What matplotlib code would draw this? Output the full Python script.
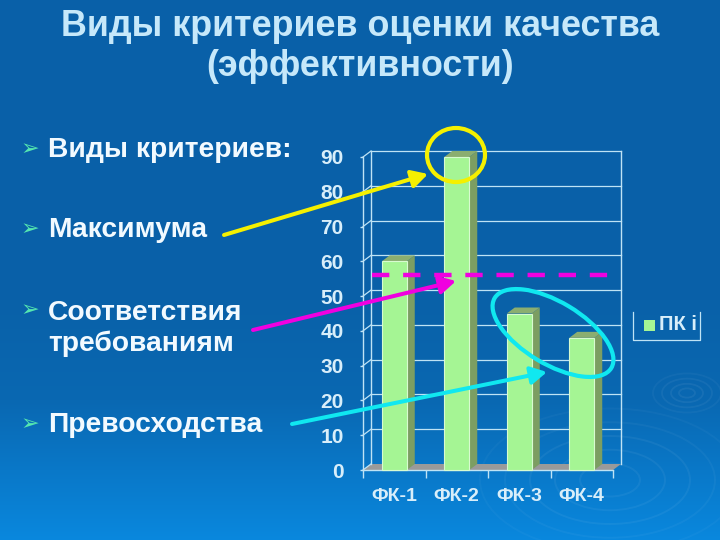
import numpy as np
import matplotlib
matplotlib.use("Agg")
import matplotlib.pyplot as plt
from matplotlib.patches import Polygon, Ellipse, Rectangle, FancyArrowPatch

plt.rcParams['font.family'] = ['Liberation Sans', 'DejaVu Sans']

categories = ['ФК-1', 'ФК-2', 'ФК-3', 'ФК-4']
values = [60, 90, 45, 38]
y_ticks = list(range(0, 100, 10))
threshold = 56
title_lines = ['Виды критериев оценки качества', '(эффективности)']
bullets = ['Виды критериев:', 'Максимума', 'Соответствия\nтребованиям', 'Превосходства']
bullet_y = [150, 230, 328.5, 425]
legend_label = 'ПК i'

W, H = 720, 540
fig = plt.figure(figsize=(W / 100, H / 100), dpi=100)

# background
bg = fig.add_axes([0, 0, 1, 1], zorder=0)
bg.set_xlim(0, W); bg.set_ylim(H, 0); bg.axis('off')
stops_y = [0, 300, 400, 470, 540]
stops = np.array([[9, 96, 168], [9, 97, 168], [9, 104, 178], [9, 120, 200], [10, 136, 222]]) / 255
ys = np.arange(H)
grad = np.stack([np.interp(ys, stops_y, stops[:, i]) for i in range(3)], axis=1)[:, None, :]
bg.imshow(grad, extent=(0, W, H, 0), aspect='auto', zorder=0)
for r, a in [(30, .05), (55, .05), (80, .05), (105, .04), (130, .03)]:
    bg.add_patch(Ellipse((610, 480), r * 2, r * 1.1, fill=False, ec='white', alpha=a, lw=1.4))
for r, a in [(8, .06), (16, .06), (25, .05), (34, .04)]:
    bg.add_patch(Ellipse((687, 393), r * 2, r * 1.15, fill=False, ec='white', alpha=a, lw=1.3))

# chart axes: front plane of the 3D box
x0, x1, yb, yt = 363, 613, 470, 157
ax = fig.add_axes([x0 / W, 1 - yb / H, (x1 - x0) / W, (yb - yt) / H], zorder=2)
ax.patch.set_alpha(0)
n = len(categories)
ax.set_xlim(-0.5, n - 0.5)
ax.set_ylim(0, 90)
for s in ['top', 'right']:
    ax.spines[s].set_visible(False)
for s in ['left', 'bottom']:
    ax.spines[s].set_color('#BFE3F5'); ax.spines[s].set_linewidth(1)
ax.set_xticks(np.arange(n + 1) - 0.5, minor=False)
ax.set_xticklabels([''] * (n + 1))
ax.set_xticks(np.arange(n), minor=True)
ax.set_xticklabels(categories, minor=True, fontsize=14, fontweight='bold', color='#D8EEFA')
ax.tick_params(axis='x', which='major', color='#BFE3F5', length=6, direction='out', width=1)
ax.tick_params(axis='x', which='minor', length=0, pad=13)
ax.set_yticks(y_ticks)
ax.set_yticklabels(y_ticks, fontsize=15, fontweight='bold', color='#D8EEFA')
ax.tick_params(axis='y', color='#BFE3F5', length=2, width=1, pad=12)

dx = 8 / ((x1 - x0) / n)
dy = 6 / ((yb - yt) / 90)
kw = dict(clip_on=False)
back_l, back_r = -0.5 + dx, n - 0.5 + dx
grid_c = '#BFE3F5'
ax.plot([back_l, back_l], [dy, 90 + dy], color=grid_c, lw=1, **kw)
ax.plot([back_r, back_r], [dy, 90 + dy], color=grid_c, lw=1, **kw)
for t in y_ticks:
    ax.plot([-0.5, back_l], [t, t + dy], color=grid_c, lw=0.9, **kw)
    if t > 0:
        ax.plot([back_l, back_r], [t + dy, t + dy], color=grid_c, lw=0.9, **kw)
ax.add_patch(Polygon([(-0.5, 0), (n - 0.5, 0), (back_r, dy), (back_l, dy)], fc='#9A9A9A', ec='none', **kw))

bw = 0.40
for i, v in enumerate(values):
    l, r = i - bw / 2, i + bw / 2
    ax.add_patch(Polygon([(r, 0), (r + dx, dy), (r + dx, v + dy), (r, v)], fc='#7C9E62', ec='none', zorder=3, **kw))
    ax.add_patch(Polygon([(l, v), (r, v), (r + dx, v + dy), (l + dx, v + dy)], fc='#8BAE70', ec='none', zorder=3, **kw))
    ax.bar(i, v, width=bw, color='#A5F594', edgecolor='#D8FBD0', linewidth=0.8, zorder=4, clip_on=False)
ax.plot([-0.5 + 9 / 62.5, n - 0.5 - 3 / 62.5], [threshold, threshold], color='#F000E0', lw=3.2,
        dashes=(3.9, 3.1), zorder=6, clip_on=False)

# overlay
ov = fig.add_axes([0, 0, 1, 1], zorder=3)
ov.set_xlim(0, W); ov.set_ylim(H, 0); ov.axis('off'); ov.patch.set_alpha(0)
for line, y in zip(title_lines, [26, 67]):
    ov.text(360, y, line, ha='center', va='center', fontsize=25.8, color='#C6E8FA', fontweight='bold')
for text, y in zip(bullets, bullet_y):
    by = y - 17 if '\n' in text else y
    ov.text(30, by - 1, '➢', ha='center', va='center', fontsize=16, color='#55E8B0', family=['DejaVu Sans'])
    ov.text(48, y, text, ha='left', va='center', fontsize=20.3, color='#F2FAFF',
            fontweight='bold', linespacing=1.24)

def arrow(p, q, c):
    ov.add_patch(FancyArrowPatch(p, q, arrowstyle='-|>,head_length=4,head_width=2.2', color=c, lw=2.9,
                                 mutation_scale=2.4, shrinkA=0, shrinkB=0, zorder=5))
arrow((224, 235), (428, 174), '#F5F000')
arrow((253, 330), (456, 281), '#F000E0')
arrow((292, 424), (547, 372), '#10E8F0')
ov.add_patch(Ellipse((456, 155), 58, 54, fill=False, ec='#F5F000', lw=3, zorder=6))
ov.add_patch(Ellipse((553, 333), 136, 62, angle=31, fill=False, ec='#10E8F0', lw=3, zorder=6))

# legend
ov.plot([633, 633, 700, 700], [312, 340, 340, 312], color='#BFE3F5', lw=0.9)
ov.add_patch(Rectangle((644, 320), 11, 11, fc='#A5F594', ec='none'))
ov.text(659, 325, legend_label, fontsize=14.5, fontweight='bold', color='#D8EEFA', ha='left', va='center')

fig.savefig('out.png', dpi=100)
